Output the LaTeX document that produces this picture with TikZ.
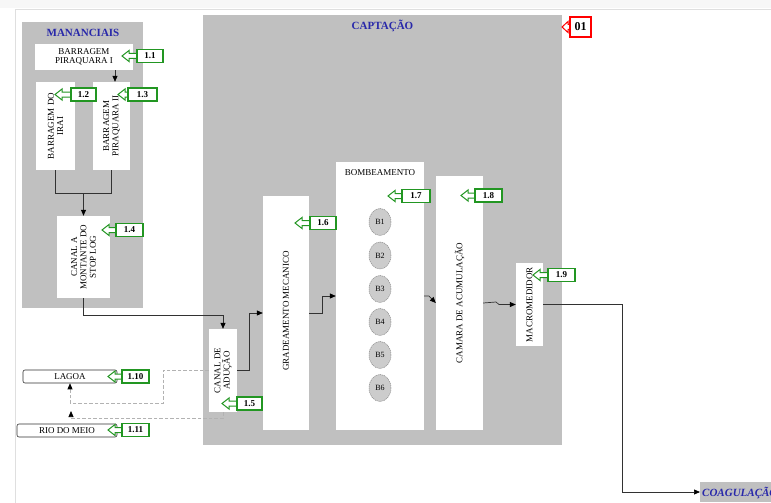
\documentclass[tikz,border=0pt]{standalone}
\usepackage{fontspec}
\setmainfont{Liberation Serif}
\usetikzlibrary{shapes.geometric,arrows.meta,calc}
\definecolor{panelgray}{RGB}{192,192,192}
\definecolor{tagreen}{RGB}{34,150,34}
\definecolor{titleblue}{RGB}{40,40,170}
\definecolor{lineclr}{RGB}{50,50,50}
\newcommand{\bxfont}{\fontsize{9}{9.4}\selectfont}
\newcommand{\gtag}[7][tagreen]{%
  \draw[#1, line width=1pt, line join=miter, fill=white] (#3,#5-2.5) -- (#6+7,#5-2.5) -- (#6+7,#5-5.5) -- (#6,#5) -- (#6+7,#5+5.5) -- (#6+7,#5+2.5) -- (#3,#5+2.5);
  \node[draw=#1, line width=1.1pt, fill=white, inner sep=0pt, minimum width={#4-#3}, minimum height=13, font=\fontsize{9}{9}\selectfont\bfseries] (#2) at ({(#3+#4)/2},#5) {#7};
}
\begin{document}
\begin{tikzpicture}[x=1pt,y=-1pt,
  panel/.style={fill=panelgray, draw=none, inner sep=0pt},
  wbox/.style={fill=white, draw=none, inner sep=0pt},
  rbox/.style={fill=white, draw=lineclr, line width=0.6pt, rounded corners=2pt, inner sep=0pt, font=\bxfont},
  vtext/.style={rotate=90, align=center, font=\bxfont, inner sep=0pt},
  htext/.style={align=center, font=\bxfont, inner sep=0pt},
  title/.style={font=\fontsize{11}{11}\selectfont\bfseries, text=titleblue, inner sep=0pt},
  arr/.style={draw=lineclr, line width=0.7pt, -{Triangle[length=6pt,width=5pt,color=black]}},
  conn/.style={draw=lineclr, line width=0.7pt},
  dsh/.style={draw=gray!60, line width=0.7pt, dash pattern=on 3.5pt off 2pt},
  pump/.style={ellipse, fill=gray!40, draw=gray!90, dash pattern=on 1.2pt off 0.8pt, line width=0.5pt, minimum width=22, minimum height=27, inner sep=0pt, font=\fontsize{8}{8}\selectfont}
]
\clip (0,0) rectangle (771,503);
\fill[white] (0,0) rectangle (771,503);
\fill[gray!6] (0,0) rectangle (771,8);
\draw[gray!25, line width=0.6pt] (15,503) -- (15,9) -- (771,9);

% panels
\node[panel, minimum width=121, minimum height=286] (man) at (82.5,165) {};
\node[panel, minimum width=359, minimum height=430] (cap) at (382.5,230) {};
\node[title] (mant) at (83,33) {MANANCIAIS};
\node[title] (capt) at (382.5,26) {CAPTAÇÃO};

% mananciais boxes
\node[wbox, minimum width=98, minimum height=26] (bpi) at (84,57) {};
\node[htext] (bpit) at (bpi.center) {BARRAGEM\\PIRAQUARA I};
\node[wbox, minimum width=39, minimum height=88] (birai) at (55.5,126) {};
\node[vtext] (biraitx) at (birai.center) {BARRAGEM DO\\IRAI};
\node[wbox, minimum width=37, minimum height=88] (bpii) at (111.5,126) {};
\node[vtext] (bpiitx) at (bpii.center) {BARRAGEM\\PIRAQUARA II};
\node[wbox, minimum width=53, minimum height=82] (canal) at (83.5,257) {};
\node[vtext] (canaltx) at (canal.center) {CANAL A\\MONTANTE DO\\STOP LOG};

% captacao boxes
\node[wbox, minimum width=28, minimum height=83] (adu) at (223,370.5) {};
\node[vtext] (adutx) at (adu.center) {CANAL DE\\ADUÇÃO};
\node[wbox, minimum width=46, minimum height=234] (grad) at (286,313) {};
\node[vtext] (gradtx) at (286,311) {GRADEAMENTO MECANICO};
\node[wbox, minimum width=88, minimum height=268] (bomb) at (380,296) {};
\node[htext] (bombtx) at (380,172.5) {BOMBEAMENTO};
\node[wbox, minimum width=47, minimum height=254] (cam) at (459.5,303) {};
\node[vtext] (camtx) at (cam.center) {CAMARA DE ACUMULAÇÃO};
\node[wbox, minimum width=27, minimum height=83] (macro) at (529.5,304.5) {};
\node[vtext] (macrotx) at (macro.center) {MACROMEDIDOR};

% pumps
\node[pump] (b1) at (380,222) {B1};
\node[pump] (b2) at (380,255.5) {B2};
\node[pump] (b3) at (380,289) {B3};
\node[pump] (b4) at (380,322) {B4};
\node[pump] (b5) at (380,355) {B5};
\node[pump] (b6) at (380,388) {B6};

% sources
\node[rbox, minimum width=94, minimum height=13] (lagoa) at (70,376.5) {LAGOA};
\node[rbox, minimum width=100, minimum height=13] (rio) at (67,430.5) {RIO DO MEIO};

% coagulacao
\node[panel, minimum width=80, minimum height=20, anchor=west] (coag) at (700,492) {};
\node[anchor=west, inner sep=0pt, text=titleblue, font=\fontsize{11}{11}\selectfont\bfseries\itshape] (coagt) at (702,493) {COAGULAÇÃO};

% connectors
\draw[arr] (bpi.south -| 115,0) -- (bpii.north -| 115,0);
\draw[conn] (birai.south) -- (55.5,193) -| (bpii.south);
\coordinate (join) at (83.5,193);
\draw[arr] (join) -- (canal.north);
\draw[arr] (canal.south) -- (83.5,315) -| (adu.north);
\draw[arr] (adu.east) -- (249,370.5) |- (grad.west);
\draw[arr] (grad.east) -- (322,313) |- (bomb.west);
\draw[arr] (bomb.east) -- (429,296) -- (cam.west);
\draw[arr] (cam.east) -- (496,302) -- (499,304.5) -- (macro.west);
\draw[arr] (macro.east) -- (622,304.5) |- (coag.west);
\draw[dsh, -{Triangle[length=6pt,width=5pt,color=black]}] (adu.west) -| (163,403) -| (lagoa.south);
\coordinate (riotip) at (71,411);
\draw[dsh, -{Triangle[length=6pt,width=5pt,color=black]}] (adu.south) |- (71,418) -- (riotip);

% tags
\gtag{t11}{137}{163}{56}{122}{1.1}
\gtag{t12}{71}{96}{94.5}{55}{1.2}
\gtag{t13}{128}{157}{94.5}{118}{1.3}
\gtag{t14}{116}{143}{230}{102}{1.4}
\gtag{t15}{237}{262}{403.5}{222}{1.5}
\gtag{t16}{310}{336}{223}{295}{1.6}
\gtag{t17}{402}{430}{196}{388}{1.7}
\gtag{t18}{475}{502}{195.5}{461}{1.8}
\gtag{t19}{548}{575}{275}{533}{1.9}
\gtag{t110}{122}{149}{376.5}{108}{1.10}
\gtag{t111}{122}{149}{430}{108}{1.11}
% red tag
\draw[red, line width=1pt, line join=miter, fill=white] (570,24.5) -- (568,24.5) -- (568,21.5) -- (562,27) -- (568,32.5) -- (568,29.5) -- (570,29.5);
\node[draw=red, line width=1.1pt, fill=white, inner sep=0pt, minimum width=21, minimum height=20, font=\fontsize{12}{12}\selectfont\bfseries] (t01) at (580.5,27) {01};
\end{tikzpicture}
\end{document}
